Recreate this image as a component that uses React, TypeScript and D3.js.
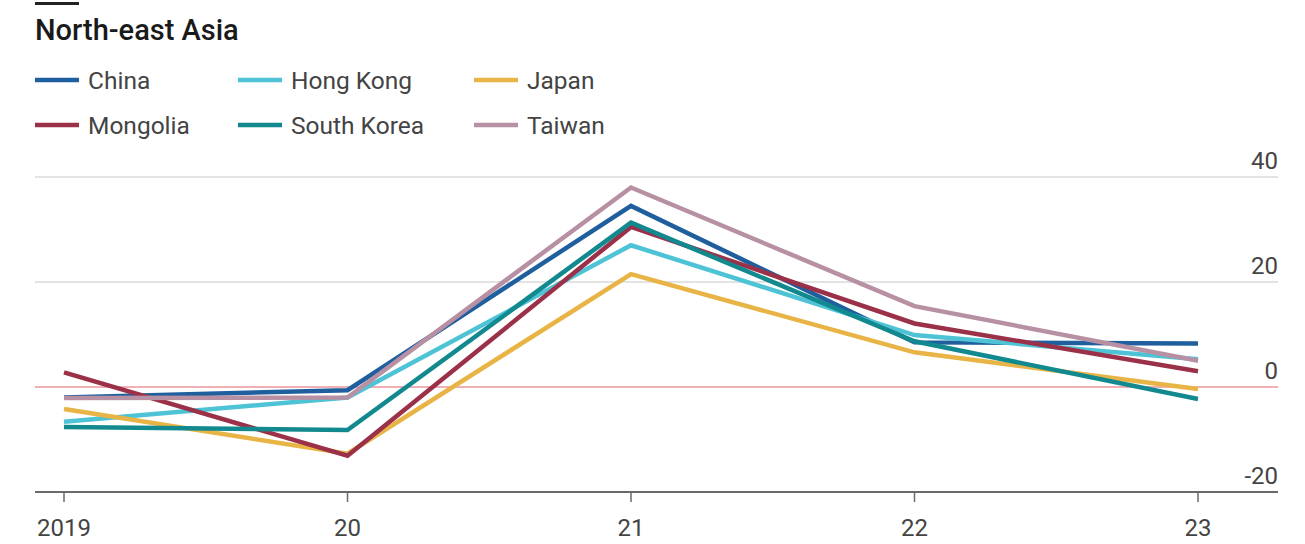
import React from "react";
import * as d3 from "d3";

const years = ["2019", "20", "21", "22", "23"];
const yTicks = [40, 20, 0, -20];

const china = [-2.0, -0.6, 34.5, 8.5, 8.3];
const hongKong = [-6.6, -2.0, 27.0, 9.9, 5.3];
const japan = [-4.2, -12.7, 21.5, 6.6, -0.4];
const mongolia = [2.8, -13.1, 30.5, 12.1, 3.0];
const southKorea = [-7.6, -8.2, 31.3, 8.7, -2.3];
const taiwan = [-2.1, -2.0, 38.0, 15.4, 5.0];

const seriesNames = ["China", "Hong Kong", "Japan", "Mongolia", "South Korea", "Taiwan"];
const seriesValues = [china, hongKong, japan, mongolia, southKorea, taiwan];
const colors = ["#1f5f9e", "#4fc3d6", "#e8b445", "#9b3149", "#11898f", "#b890a4"];

const W = 1305;
const H = 544;
const FONT = "Roboto, 'Liberation Sans', sans-serif";

export default function App() {
  const x = d3.scalePoint<string>().domain(years).range([64, 1198]);
  const y = d3.scaleLinear().domain([-20, 40]).range([492, 177]);
  const line = d3
    .line<number>()
    .x((_, i) => x(years[i]) as number)
    .y((d) => y(d));

  const legendCols = [35, 238, 474];
  const legendRows = [80, 125];

  return (
    <svg
      width={W}
      height={H}
      style={{ position: "absolute", left: 0, top: 0, background: "#fff" }}
      fontFamily={FONT}
    >
      <rect x={35} y={2} width={44} height={3} fill="#222" />
      <text x={35} y={40} fontSize={29} fontWeight={500} fill="#1a1a1a">
        North-east Asia
      </text>

      {seriesNames.map((name, i) => {
        const cx = legendCols[i % 3];
        const cy = legendRows[Math.floor(i / 3)];
        return (
          <g key={name}>
            <line x1={cx} x2={cx + 44} y1={cy} y2={cy} stroke={colors[i]} strokeWidth={4.5} />
            <text x={cx + 53} y={cy + 9} fontSize={24.5} fill="#444">
              {name}
            </text>
          </g>
        );
      })}

      {yTicks.map((t) => (
        <g key={t}>
          {t > -20 && t !== 0 && (
            <line x1={35} x2={1278} y1={y(t)} y2={y(t)} stroke="#c8c8c8" strokeWidth={1.2} />
          )}
          <text
            x={1278}
            y={y(t) - 8}
            textAnchor="end"
            fontSize={24}
            fill="#444"
          >
            {t}
          </text>
        </g>
      ))}

      <line x1={35} x2={1278} y1={y(-20)} y2={y(-20)} stroke="#6a6a6a" strokeWidth={2} />
      {years.map((yr) => (
        <g key={yr}>
          <line
            x1={x(yr) as number}
            x2={x(yr) as number}
            y1={y(-20)}
            y2={y(-20) + 10}
            stroke="#6a6a6a"
            strokeWidth={1.5}
          />
          <text x={x(yr) as number} y={536} textAnchor="middle" fontSize={24} fill="#444">
            {yr}
          </text>
        </g>
      ))}

      <line x1={35} x2={1278} y1={y(0)} y2={y(0)} stroke="#e0606a" strokeWidth={1} />

      {seriesValues.map((vals, i) => (
        <path
          key={seriesNames[i]}
          d={line(vals) || ""}
          fill="none"
          stroke={colors[i]}
          strokeWidth={4.5}
          strokeLinejoin="miter"
        />
      ))}
    </svg>
  );
}
